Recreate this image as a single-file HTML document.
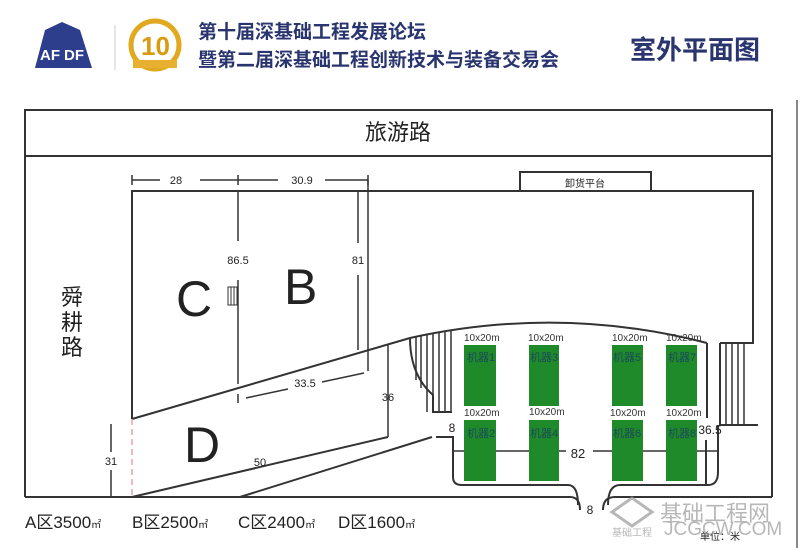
<!DOCTYPE html>
<html><head><meta charset="utf-8"><style>
html,body{margin:0;padding:0;background:#fff;width:800px;height:548px;overflow:hidden}
svg{display:block}
text{font-family:"Liberation Sans","Noto Sans CJK SC",sans-serif}
</style></head><body>
<svg width="800" height="548" viewBox="0 0 800 548" xmlns="http://www.w3.org/2000/svg">
<!-- header -->
<g>
 <path d="M35 68 L45 30 L62 22 L80 30 L92 68 Z" fill="#2c3e8c"/>
 <text x="40" y="60" font-size="15" font-weight="bold" fill="#fff">AF</text>
 <text x="64" y="60" font-size="15" font-weight="bold" fill="#fff">DF</text>
 <line x1="115" y1="25" x2="115" y2="70" stroke="#ccc"/>
 <circle cx="155" cy="45" r="24" fill="none" stroke="#e0a920" stroke-width="5"/>
 <text x="141" y="55" font-size="26" font-weight="bold" fill="#d99a10">10</text>
 <rect x="133" y="60" width="44" height="8" fill="#e8b030"/>
 <text x="198" y="38" font-size="19" font-weight="bold" fill="#2a3570" font-family="Noto Sans CJK SC,sans-serif">第十届深基础工程发展论坛</text>
 <text x="198" y="66" font-size="19" font-weight="bold" fill="#2a3570" font-family="Noto Sans CJK SC,sans-serif">暨第二届深基础工程创新技术与装备交易会</text>
 <text x="630" y="59" font-size="26" font-weight="bold" fill="#2a3570" font-family="Noto Sans CJK SC,sans-serif">室外平面图</text>
</g>
<g fill="none" stroke="#333" stroke-width="2">
 <rect x="25" y="110" width="747" height="46"/>
 <line x1="25" y1="156" x2="25" y2="497"/>
 <line x1="772" y1="156" x2="772" y2="497"/>
 <path d="M25 497 H570 Q580 497 580 510 M603 510 Q603 497 615 497 H772"/>
 <line x1="797" y1="100" x2="797" y2="548" stroke="#888"/>
 <rect x="520" y="172" width="131" height="19"/>
 <path d="M132 419 V191 H753 V343 H720"/>
 <path d="M132 419 L410 338 Q560 305 707 343"/>
 <path d="M132 175 V185 M132 180 H160 M200 180 H278 M325 180 H368 M238 175 V185 M368 175 V185" stroke-width="1.5"/>
 <line x1="238" y1="191" x2="238" y2="241" stroke-width="1.5"/>
 <line x1="238" y1="280" x2="238" y2="384" stroke-width="1.5"/>
 <line x1="238" y1="394" x2="238" y2="403" stroke-width="1.5"/>
 <line x1="246" y1="398" x2="288" y2="389" stroke-width="1.5"/>
 <line x1="322" y1="382" x2="364" y2="373" stroke-width="1.5"/>
 <line x1="358" y1="191" x2="358" y2="243" stroke-width="1.5"/>
 <line x1="358" y1="275" x2="358" y2="350" stroke-width="1.5"/>
 <line x1="368" y1="180" x2="368" y2="371" stroke-width="1.5"/>
 <rect x="228" y="287" width="9" height="18" stroke-width="1"/>
 <path d="M231 287 V305 M234 287 V305" stroke-width="1"/>
 <line x1="132" y1="497" x2="388" y2="437"/>
 <line x1="388" y1="345" x2="388" y2="437" stroke-width="1.5"/>
 <line x1="240" y1="497" x2="432" y2="437"/>
 <line x1="111" y1="424" x2="111" y2="452" stroke-width="1.5"/>
 <line x1="111" y1="470" x2="111" y2="497" stroke-width="1.5"/>
 <line x1="132" y1="419" x2="132" y2="497" stroke="#e8a0a8" stroke-dasharray="6 4" stroke-width="1.5"/>
 <path d="M410 338 Q410 375 433 395 V412 H452"/>
 <path d="M416 337 V380 M421 336 V388 M427 335 V412 M433 334 V412 M439 333 V412 M445 332 V412 M451 331 V412" stroke-width="1.5"/>
 <path d="M720 343 V425 H758"/>
 <path d="M726 343 V425 M732 343 V425 M738 343 V425 M744 343 V425" stroke-width="1.5"/>
 <line x1="707" y1="343" x2="707" y2="418"/>
 <line x1="706" y1="440" x2="706" y2="485"/>
 <path d="M436 437 H453 V477 Q453 485 462 485 H568 Q578 485 578 505"/>
 <path d="M608 505 Q608 485 620 485 H708 Q718 485 718 472 V425"/>
 <line x1="453" y1="451" x2="566" y2="451" stroke-width="1.5"/>
 <line x1="593" y1="451" x2="718" y2="451" stroke-width="1.5"/>
</g>
<g fill="#1f8a2a">
 <rect x="464" y="345" width="32" height="61"/><rect x="529" y="345" width="30" height="61"/>
 <rect x="612" y="345" width="31" height="61"/><rect x="666" y="345" width="31" height="61"/>
 <rect x="464" y="420" width="32" height="61"/><rect x="529" y="420" width="30" height="61"/>
 <rect x="612" y="420" width="31" height="61"/><rect x="666" y="420" width="31" height="61"/>
</g>
<g font-size="10" fill="#333" font-family="Liberation Serif,serif">
 <text x="464" y="341">10x20m</text><text x="528" y="341">10x20m</text><text x="612" y="341">10x20m</text><text x="666" y="341">10x20m</text>
 <text x="464" y="416">10x20m</text><text x="529" y="415">10x20m</text><text x="610" y="416">10x20m</text><text x="666" y="416">10x20m</text>
</g>
<g font-size="11" fill="#1a4a5a" font-family="Noto Sans CJK SC,sans-serif">
 <text x="467" y="361">机器1</text><text x="530" y="361">机器3</text><text x="613" y="361">机器5</text><text x="668" y="361">机器7</text>
 <text x="467" y="437">机器2</text><text x="530" y="437">机器4</text><text x="613" y="437">机器6</text><text x="668" y="437">机器8</text>
</g>
<g fill="#222">
 <text x="398" y="140" font-size="22" text-anchor="middle" font-family="Noto Sans CJK SC,sans-serif">旅游路</text>
 <text x="585" y="187" font-size="10" text-anchor="middle" font-family="Noto Sans CJK SC,sans-serif">卸货平台</text>
 <text x="72" y="305" font-size="22" text-anchor="middle" font-family="Noto Sans CJK SC,sans-serif">舜</text>
 <text x="72" y="330" font-size="22" text-anchor="middle" font-family="Noto Sans CJK SC,sans-serif">耕</text>
 <text x="72" y="355" font-size="22" text-anchor="middle" font-family="Noto Sans CJK SC,sans-serif">路</text>
 <text x="176" y="316" font-size="50">C</text>
 <text x="284" y="304" font-size="50">B</text>
 <text x="184" y="462" font-size="50">D</text>
 <g font-size="11" text-anchor="middle">
  <text x="176" y="184">28</text><text x="302" y="184">30.9</text>
  <text x="238" y="264">86.5</text><text x="358" y="264">81</text>
  <text x="305" y="387">33.5</text><text x="388" y="401">36</text>
  <text x="260" y="466">50</text><text x="111" y="465">31</text>
 </g>
 <text x="452" y="432" font-size="12" text-anchor="middle">8</text>
 <text x="578" y="458" font-size="13" text-anchor="middle">82</text>
 <text x="710" y="434" font-size="12" text-anchor="middle">36.5</text>
 <text x="590" y="514" font-size="12" text-anchor="middle">8</text>
 <g font-size="17" font-family="Liberation Sans,Noto Sans CJK SC,sans-serif">
  <text x="25" y="528">A区3500<tspan font-size="10">㎡</tspan></text>
  <text x="132" y="528">B区2500<tspan font-size="10">㎡</tspan></text>
  <text x="238" y="528">C区2400<tspan font-size="10">㎡</tspan></text>
  <text x="338" y="528">D区1600<tspan font-size="10">㎡</tspan></text>
 </g>
 <text x="700" y="540" font-size="10" font-family="Noto Sans CJK SC,sans-serif">单位：米</text>
</g>
<g fill="#9a9a9a" opacity="0.7">
 <path d="M612 512 L632 498 L652 512 L632 526 Z" fill="none" stroke="#999" stroke-width="3"/>
 <text x="660" y="521" font-size="22" font-family="Noto Sans CJK SC,sans-serif">基础工程网</text>
 <text x="612" y="536" font-size="10" font-family="Noto Sans CJK SC,sans-serif">基础工程</text>
 <text x="664" y="535" font-size="19">JCGCW.COM</text>
</g>
</svg>
</body></html>
